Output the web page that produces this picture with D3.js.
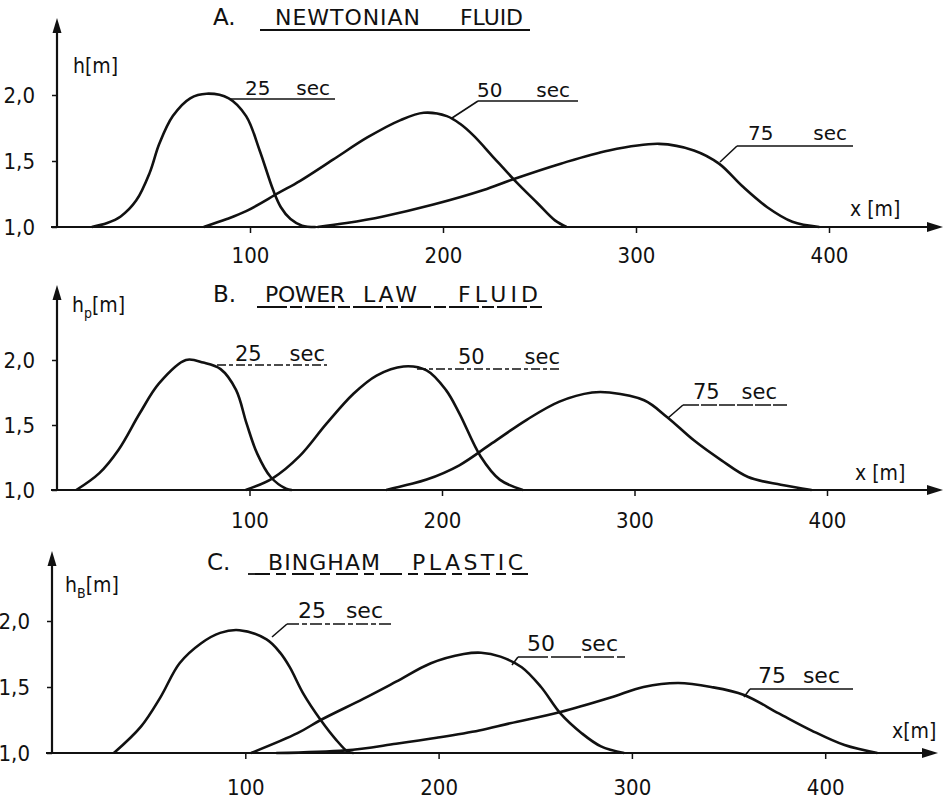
<!DOCTYPE html>
<html>
<head>
<meta charset="utf-8">
<script src="https://cdn.jsdelivr.net/npm/d3@7"></script>
<style>
  body { margin: 0; background: #fff; }
  text { font-family: "DejaVu Sans", sans-serif; fill: #111; }
  .narrow { font-family: "DejaVu Sans Condensed", "DejaVu Sans", sans-serif; }
</style>
</head>
<body>
<div id="chart"></div>
<script>
// values, [x (m), h (m)]
const newtonian25 = [[18,1.0],[26,1.03],[33,1.08],[41,1.2],[48,1.41],[53,1.63],[60,1.84],[69,1.975],[77.5,2.01],[89,1.975],[98,1.84],[105,1.58],[112,1.28],[116,1.15],[121,1.06],[127,1.01],[134,1.0]];
const newtonian50 = [[76,1.0],[88,1.06],[98,1.12],[115,1.26],[126,1.35],[143,1.51],[161,1.68],[178,1.81],[190,1.865],[202,1.84],[209,1.78],[216,1.69],[226,1.53],[238,1.34],[249,1.18],[258,1.05],[264,1.0]];
const newtonian75 = [[135,1.0],[150,1.03],[169,1.08],[195,1.17],[221,1.28],[236,1.36],[261,1.48],[286,1.58],[312,1.63],[330,1.58],[343,1.48],[355,1.31],[368,1.15],[381,1.04],[395,1.0]];

const powerLaw25 = [[10,1.0],[22,1.13],[32,1.31],[43,1.59],[53,1.82],[67,2.0],[76,1.98],[85,1.93],[93,1.77],[98.5,1.51],[104,1.28],[111,1.10],[119,1.01],[122,1.0]];
const powerLaw50 = [[98,1.0],[112,1.09],[126,1.26],[140,1.51],[154,1.74],[166,1.88],[180,1.95],[192,1.92],[202,1.77],[209,1.59],[220,1.26],[230,1.08],[242,1.0]];
const powerLaw75 = [[171,1.0],[182,1.04],[192,1.08],[209,1.19],[226,1.36],[244,1.54],[261,1.68],[278,1.75],[287,1.75],[305,1.69],[317,1.56],[331,1.38],[345,1.23],[359,1.1],[376,1.04],[392,1.0]];

const bingham25 = [[32,1.0],[46,1.2],[56,1.42],[66,1.68],[77,1.83],[87,1.91],[97,1.93],[111,1.86],[118,1.76],[123,1.65],[130,1.45],[139,1.25],[147,1.10],[153,1.01],[156,1.0]];
const bingham50 = [[103,1.0],[127,1.15],[139,1.25],[161,1.41],[178,1.54],[196,1.68],[213,1.75],[222,1.76],[232,1.73],[243,1.65],[253,1.5],[263,1.3],[274,1.15],[284,1.05],[296,1.0]];
const bingham75 = [[116,1.0],[152,1.02],[178,1.07],[199,1.115],[221,1.17],[237,1.225],[263,1.31],[289,1.42],[306,1.5],[324,1.53],[341,1.5],[358,1.44],[376,1.3],[393,1.17],[410,1.06],[427,1.0]];

const timeLabels = [["25", "sec"], ["50", "sec"], ["75", "sec"]];
const xTicks = [100, 200, 300, 400];
const yTicks = [1.0, 1.5, 2.0];

// one entry per panel: texts + where things sit on the page
const panels = [
  {
    letter: "A.", words: ["NEWTONIAN", "FLUID"], yName: "h", ySub: "", yUnit: "[m]", xName: "x [m]",
    series: [newtonian25, newtonian50, newtonian75],
    x0: 57, unit: 1.93, yBase: 227, y2: 95, yTip: 18, xTip: 943, tickPad: 14, fs: 20,
    title: { lx: 213, by: 25, spans: [[275, 420], [460, 523]], ul: [260, 530, 30], dash: null },
    yLab: [73, 73], xLab: [850, 216],
    notes: [
      { line: [230, 335, 99], text: [245, 330, 95], leader: null, dash: null },
      { line: [478, 578, 101], text: [477, 570, 97], leader: [452, 118], dash: null },
      { line: [737, 853, 146], text: [748, 847, 140], leader: [720, 162], dash: null }
    ]
  },
  {
    letter: "B.", words: ["POWER", "LAW", "FLUID"], yName: "h", ySub: "p", yUnit: "[m]", xName: "x [m]",
    series: [powerLaw25, powerLaw50, powerLaw75],
    x0: 57, unit: 1.925, yBase: 490, y2: 360, yTip: 285, xTip: 943, tickPad: 16, fs: 21,
    title: { lx: 213, by: 302, spans: [[265, 345], [363, 417], [458, 538]], ul: [257, 545, 307], dash: "30,3,12,3" },
    yLab: [72, 312], xLab: [855, 480],
    notes: [
      { line: [217, 327, 365], text: [235, 325, 361], leader: null, dash: "9,3,4,3" },
      { line: [417, 562, 369], text: [458, 560, 364], leader: null, dash: "9,3,4,3" },
      { line: [683, 787, 405], text: [693, 777, 399], leader: [668, 418], dash: "16,2" }
    ]
  },
  {
    letter: "C.", words: ["BINGHAM", "PLASTIC"], yName: "h", ySub: "B", yUnit: "[m]", xName: "x[m]",
    series: [bingham25, bingham50, bingham75],
    x0: 52, unit: 1.933, yBase: 753, y2: 621, yTip: 551, xTip: 938, tickPad: 20, fs: 22,
    title: { lx: 207, by: 570, spans: [[268, 380], [412, 523]], ul: [248, 528, 574], dash: "22,6,10,6" },
    yLab: [65, 592], xLab: [892, 738],
    notes: [
      { line: [287, 392, 624], text: [298, 383, 618], leader: [272, 637], dash: "12,3,5,3" },
      { line: [518, 625, 657], text: [527, 618, 651], leader: [512, 665], dash: "30,3" },
      { line: [750, 853, 689], text: [758, 840, 683], leader: [744, 697], dash: null }
    ]
  }
];

const W = 947, H = 802;
const svg = d3.select("#chart").append("svg")
  .attr("width", W)
  .attr("height", H)
  .style("display", "block");

const ink = "#111";
const fmtY = d => d3.format(".1f")(d).replace(".", ",");

panels.forEach(p => {
  const g = svg.append("g");

  // p.unit = pixels per metre
  const x = d3.scaleLinear().domain([0, 400]).range([p.x0, p.x0 + 400 * p.unit]);
  const y = d3.scaleLinear().domain([1, 2]).range([p.yBase, p.y2]);

  // x axis: ticks + labels from d3, long line with arrow drawn by hand
  const xa = g.append("g")
    .attr("transform", `translate(0,${p.yBase})`)
    .call(d3.axisBottom(x).tickValues(xTicks).tickSize(6).tickPadding(p.tickPad).tickFormat(d3.format("d")));
  xa.select(".domain").remove();
  xa.selectAll("line").attr("stroke", ink).attr("stroke-width", 1.5);
  xa.selectAll("text").attr("class", "narrow").attr("font-size", 22).attr("fill", ink).style("font-family", null);

  g.append("line")
    .attr("x1", p.x0 - 6).attr("x2", p.xTip - 10)
    .attr("y1", p.yBase).attr("y2", p.yBase)
    .attr("stroke", ink).attr("stroke-width", 2.2);
  g.append("path")
    .attr("d", `M${p.xTip},${p.yBase} L${p.xTip - 16},${p.yBase - 5} L${p.xTip - 16},${p.yBase + 5} Z`)
    .attr("fill", ink);

  // y axis
  const ya = g.append("g")
    .attr("transform", `translate(${p.x0},0)`)
    .call(d3.axisLeft(y).tickValues(yTicks).tickSize(5).tickPadding(17).tickFormat(fmtY));
  ya.select(".domain").remove();
  ya.selectAll("line").attr("stroke", ink).attr("stroke-width", 1.5);
  ya.selectAll("text").attr("class", "narrow").attr("font-size", 22).attr("fill", ink).style("font-family", null);

  g.append("line")
    .attr("x1", p.x0).attr("x2", p.x0)
    .attr("y1", p.yBase + 1).attr("y2", p.yTip + 10)
    .attr("stroke", ink).attr("stroke-width", 2.2);
  g.append("path")
    .attr("d", `M${p.x0},${p.yTip} L${p.x0 - 4.5},${p.yTip + 15} L${p.x0 + 4.5},${p.yTip + 15} Z`)
    .attr("fill", ink);

  // axis names
  const yl = g.append("text")
    .attr("class", "narrow")
    .attr("x", p.yLab[0]).attr("y", p.yLab[1])
    .attr("font-size", 21);
  yl.append("tspan").text(p.yName);
  if (p.ySub) yl.append("tspan").attr("font-size", 14).attr("dy", 6).text(p.ySub);
  yl.append("tspan").attr("dy", p.ySub ? -6 : 0).text(p.yUnit);

  g.append("text")
    .attr("class", "narrow")
    .attr("x", p.xLab[0]).attr("y", p.xLab[1])
    .attr("font-size", 21)
    .style("white-space", "pre")
    .text(p.xName);

  // title
  g.append("text")
    .attr("x", p.title.lx).attr("y", p.title.by)
    .attr("font-size", 23)
    .text(p.letter);
  p.words.forEach((w, i) => {
    const s = p.title.spans[i];
    g.append("text")
      .attr("x", s[0]).attr("y", p.title.by)
      .attr("font-size", 22)
      .attr("textLength", s[1] - s[0])
      .attr("lengthAdjust", "spacing")
      .text(w);
  });
  g.append("line")
    .attr("x1", p.title.ul[0]).attr("x2", p.title.ul[1])
    .attr("y1", p.title.ul[2]).attr("y2", p.title.ul[2])
    .attr("stroke", ink).attr("stroke-width", 1.8)
    .attr("stroke-dasharray", p.title.dash);

  // profiles
  const line = d3.line()
    .x(d => x(d[0]))
    .y(d => y(d[1]))
    .curve(d3.curveCatmullRom.alpha(0.5));

  g.selectAll(".profile")
    .data(p.series)
    .enter()
    .append("path")
    .attr("class", "profile")
    .attr("d", line)
    .attr("fill", "none")
    .attr("stroke", ink)
    .attr("stroke-width", 2.6)
    .attr("stroke-linejoin", "round");

  // time labels with underline + leader
  p.notes.forEach((n, i) => {
    g.append("line")
      .attr("x1", n.line[0]).attr("x2", n.line[1])
      .attr("y1", n.line[2]).attr("y2", n.line[2])
      .attr("stroke", ink).attr("stroke-width", 1.6)
      .attr("stroke-dasharray", n.dash);
    if (n.leader) {
      g.append("line")
        .attr("x1", n.line[0]).attr("y1", n.line[2])
        .attr("x2", n.leader[0]).attr("y2", n.leader[1])
        .attr("stroke", ink).attr("stroke-width", 1.6);
    }
    g.append("text")
      .attr("x", n.text[0]).attr("y", n.text[2])
      .attr("font-size", p.fs)
      .text(timeLabels[i][0]);
    g.append("text")
      .attr("x", n.text[1]).attr("y", n.text[2])
      .attr("font-size", p.fs)
      .attr("text-anchor", "end")
      .text(timeLabels[i][1]);
  });
});
</script>
</body>
</html>
